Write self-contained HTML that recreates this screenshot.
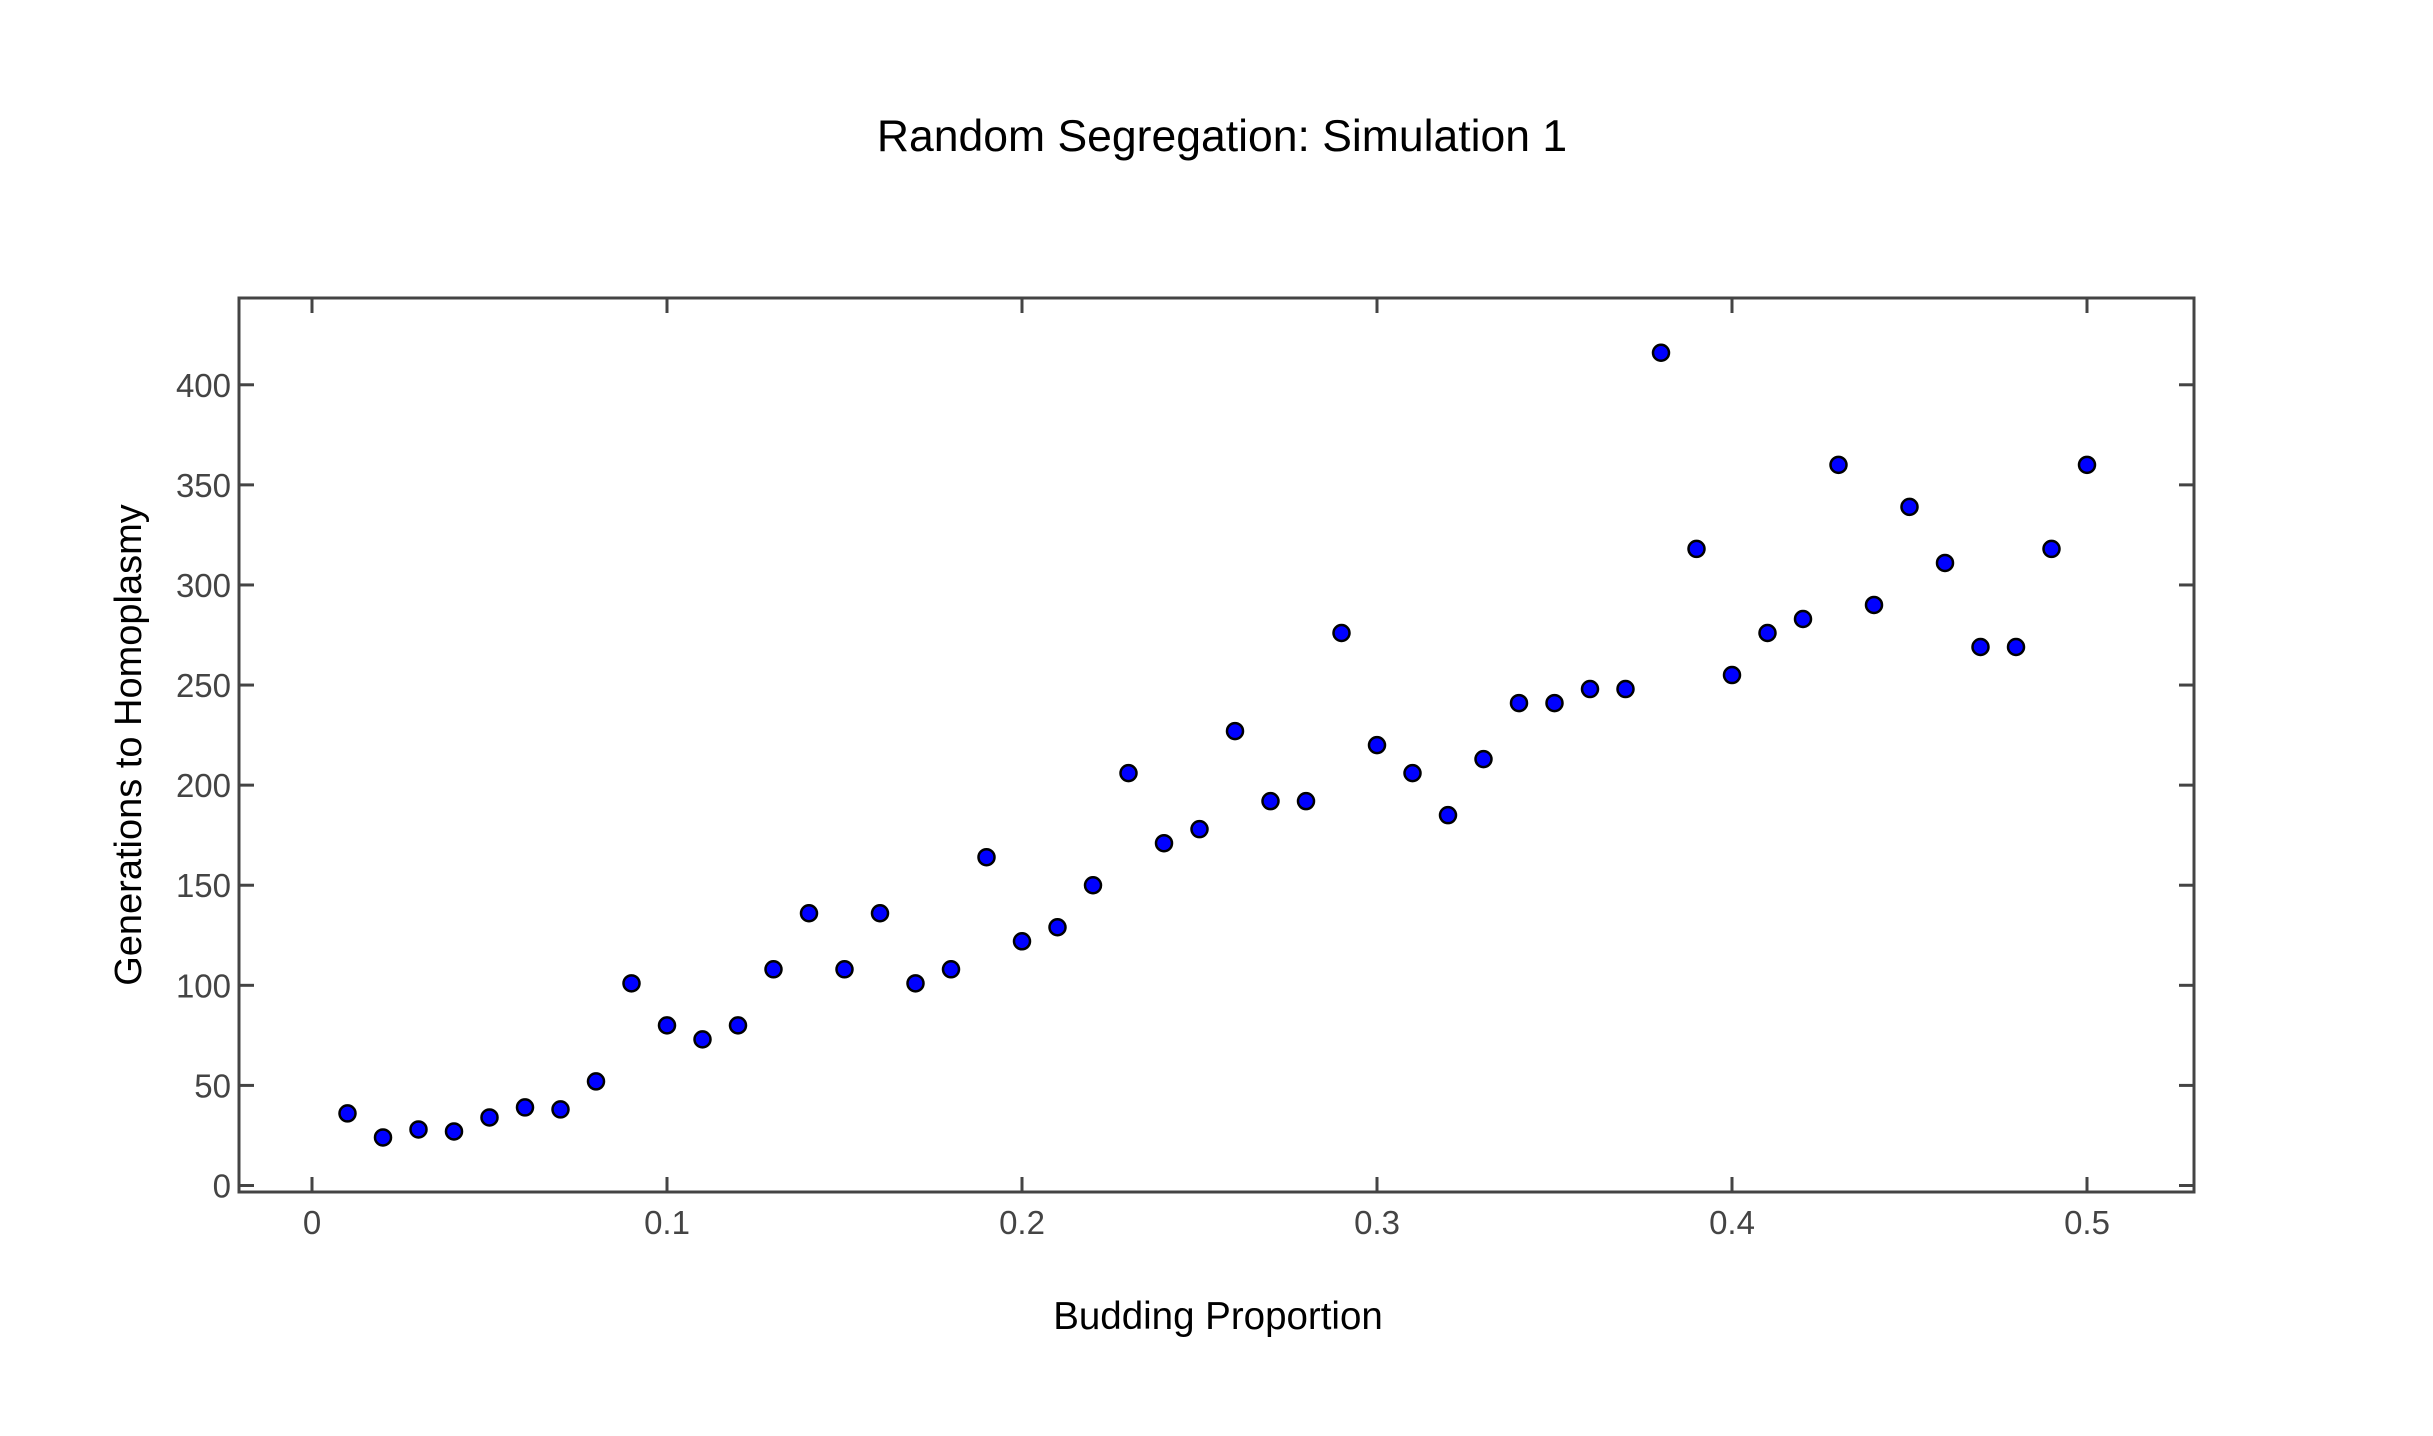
<!DOCTYPE html>
<html><head><meta charset="utf-8"><style>
body{margin:0;background:#fff}
svg text{font-family:"Liberation Sans",sans-serif}
</style></head><body>
<svg id="chart" width="2433" height="1431" xmlns="http://www.w3.org/2000/svg">
<rect width="2433" height="1431" fill="#fff"/>
<text x="1222" y="151" text-anchor="middle" font-size="44.5" fill="#000">Random Segregation: Simulation 1</text>
<text x="1218" y="1329" text-anchor="middle" font-size="38.5" fill="#000">Budding Proportion</text>
<text x="0" y="0" transform="translate(141,745) rotate(-90)" text-anchor="middle" font-size="38" fill="#000">Generations to Homoplasmy</text>
<g id="ticks"></g>
<g id="marks"></g>
<rect x="239" y="298" width="1955" height="894" fill="none" stroke="#444" stroke-width="3"/>
</svg>
<script>
const xValues=[0.01,0.02,0.03,0.04,0.05,0.06,0.07,0.08,0.09,0.10,0.11,0.12,0.13,0.14,0.15,0.16,0.17,0.18,0.19,0.20,0.21,0.22,0.23,0.24,0.25,0.26,0.27,0.28,0.29,0.30,0.31,0.32,0.33,0.34,0.35,0.36,0.37,0.38,0.39,0.40,0.41,0.42,0.43,0.44,0.45,0.46,0.47,0.48,0.49,0.50];
const yValues=[36,24,28,27,34,39,38,52,101,80,73,80,108,136,108,136,101,108,164,122,129,150,206,171,178,227,192,192,276,220,206,185,213,241,241,248,248,416,318,255,276,283,360,290,339,311,269,269,318,360];
const xTicks=[0,0.1,0.2,0.3,0.4,0.5];
const xTickLabels=["0","0.1","0.2","0.3","0.4","0.5"];
const yTicks=[0,50,100,150,200,250,300,350,400];
const yTickLabels=["0","50","100","150","200","250","300","350","400"];
const NS="http://www.w3.org/2000/svg";
const L=239,R=2194,T=298,B=1192;
function xs(v){return 312+v*3550;}
function ys(v){return 1185.5-v*2.0018;}
function mk(tag,attrs){const e=document.createElementNS(NS,tag);for(const k in attrs)e.setAttribute(k,attrs[k]);return e;}
const tg=document.getElementById('ticks');
xTicks.forEach((t,i)=>{
  const x=xs(t);
  const a=mk('line',{x1:x,x2:x,y1:B,y2:B-15,stroke:'#444','stroke-width':3});
  
  
  tg.appendChild(a);
  const b=mk('line',{x1:x,x2:x,y1:T,y2:T+15,stroke:'#444','stroke-width':3});
  
  
  tg.appendChild(b);
  const tx=mk('text',{x:x,y:1234,'text-anchor':'middle','font-size':33,fill:'#444'});
  tx.textContent=xTickLabels[i];
  
  
  tg.appendChild(tx);
});
yTicks.forEach((t,i)=>{
  const y=ys(t);
  const a=mk('line',{x1:L,x2:L+15,y1:y,y2:y,stroke:'#444','stroke-width':3});
  
  
  tg.appendChild(a);
  const b=mk('line',{x1:R,x2:R-15,y1:y,y2:y,stroke:'#444','stroke-width':3});
  
  
  tg.appendChild(b);
  const tx=mk('text',{x:231,y:y+12,'text-anchor':'end','font-size':33,fill:'#444'});
  tx.textContent=yTickLabels[i];
  
  
  tg.appendChild(tx);
});
const mg=document.getElementById('marks');
xValues.forEach((v,i)=>{
  const c=mk('circle',{cx:xs(v),cy:ys(yValues[i]),r:8,fill:'#0000ff',stroke:'#000','stroke-width':2.5});
  
  
  mg.appendChild(c);
});
</script>
</body></html>
